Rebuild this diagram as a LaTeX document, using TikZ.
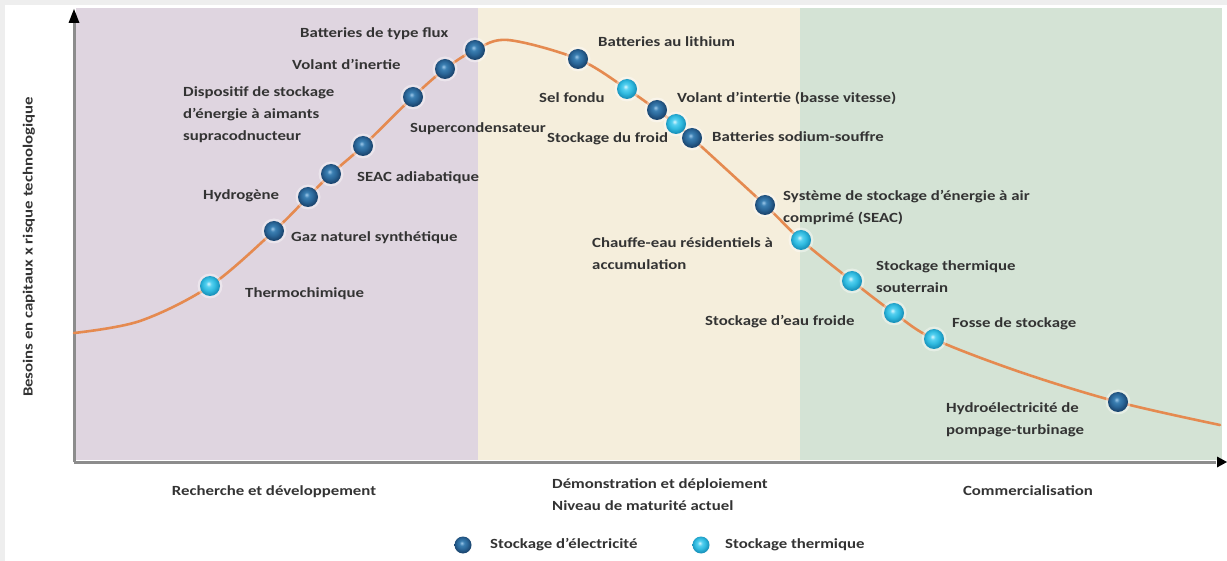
\documentclass[tikz,border=0pt]{standalone}
\usepackage{fontspec}
\setmainfont{Carlito}[FakeStretch=1.2]
\usetikzlibrary{arrows.meta}
\definecolor{frame}{HTML}{EEEEEE}
\definecolor{zoneA}{HTML}{DFD5E0}
\definecolor{zoneB}{HTML}{F5EEDC}
\definecolor{zoneC}{HTML}{D4E3D5}
\definecolor{axisgray}{HTML}{8C8C8C}
\definecolor{curve}{HTML}{E58A50}
\definecolor{txt}{HTML}{333333}
\definecolor{ehl}{HTML}{9CC8EA}
\definecolor{emid}{HTML}{3B7FB2}
\definecolor{eout}{HTML}{2A6698}
\definecolor{eedge}{HTML}{1B4670}
\definecolor{thl}{HTML}{D8F7FF}
\definecolor{tmid}{HTML}{55D0F0}
\definecolor{tout}{HTML}{30BADF}
\definecolor{tedge}{HTML}{1A93BC}
\pgfdeclareradialshading{elecball}{\pgfqpoint{-4bp}{6bp}}{color(0bp)=(ehl); color(7bp)=(emid); color(16bp)=(eout); color(25bp)=(eedge); color(50bp)=(eedge)}
\pgfdeclareradialshading{thermball}{\pgfqpoint{-4bp}{6bp}}{color(0bp)=(thl); color(7bp)=(tmid); color(16bp)=(tout); color(25bp)=(tedge); color(50bp)=(tedge)}
\begin{document}
\begin{tikzpicture}[x=1pt,y=-1pt,
  lbl/.style={font=\fontsize{14}{22}\selectfont\bfseries, text=txt, inner sep=0pt, align=left, anchor=base west},
  lblc/.style={font=\fontsize{14}{22}\selectfont\bfseries, text=txt, inner sep=0pt, align=center, anchor=base},
  elec/.style={circle, minimum size=20pt, inner sep=0pt, shading=elecball},
  therm/.style={circle, minimum size=20pt, inner sep=0pt, shading=thermball},
  halo/.style={circle, minimum size=25pt, inner sep=0pt, fill=white, fill opacity=0.4},
  axisline/.style={draw=axisgray, line width=3pt}
]
% background and frame
\useasboundingbox (0,0) rectangle (1227,561);
\fill[frame] (0,0) rectangle (1227,561);
\fill[white] (5,5) rectangle (1227,561);
% zones
\fill[zoneA] (76,8) rectangle (478,460);
\fill[zoneB] (478,8) rectangle (800,460);
\fill[zoneC] (800,8) rectangle (1222,460);
% axes
\coordinate (o) at (74,462);
\coordinate (ytop) at (74,9);
\coordinate (xend) at (1227,462);
\draw[axisline] (o) -- (74,22);
\draw[axisline] (o) -- (1216,462);
\fill[black] (ytop) -- (79.5,23) -- (68.5,23) -- cycle;
\fill[black] (xend) -- (1217,456.5) -- (1217,467.5) -- cycle;
% y axis label
\node[font=\fontsize{14}{16}\selectfont\bfseries, text=txt, rotate=90, inner sep=0pt] (ylab) at (29,247) {Besoins en capitaux x risque technologique};
% ball positions
\coordinate (pThermo) at (210,286);
\coordinate (pGaz) at (274,231);
\coordinate (pHydro) at (308,197);
\coordinate (pSeacA) at (331,174);
\coordinate (pDisp) at (363,146);
\coordinate (pSuper) at (413,97);
\coordinate (pVolant) at (445,69);
\coordinate (pFlux) at (475,50);
\coordinate (pLith) at (578,59);
\coordinate (pSel) at (627,89);
\coordinate (pVolB) at (657,110);
\coordinate (pFroid) at (676,124);
\coordinate (pNaS) at (692,138);
\coordinate (pSeac) at (765,205);
\coordinate (pChauf) at (801,240);
\coordinate (pSout) at (852,281);
\coordinate (pEau) at (894,313);
\coordinate (pFosse) at (934,339);
\coordinate (pPump) at (1118,402);
\coordinate (cStart) at (74,333);
\coordinate (cA) at (140,321);
\coordinate (cPeak) at (508,40);
\coordinate (cB) at (1020,372);
\coordinate (cEnd) at (1220,425);
% curve
\draw[curve, line width=2.6pt, line cap=round] plot[smooth, tension=0.55] coordinates {(cStart) (cA) (pThermo) (pGaz) (pHydro) (pSeacA) (pDisp) (pSuper) (pVolant) (pFlux) (cPeak) (pLith) (pSel) (pVolB) (pFroid) (pNaS) (pSeac) (pChauf) (pSout) (pEau) (pFosse) (cB) (pPump) (cEnd)};
% balls
\foreach \p in {pThermo,pSel,pFroid,pChauf,pSout,pEau,pFosse,pGaz,pHydro,pSeacA,pDisp,pSuper,pVolant,pFlux,pLith,pVolB,pNaS,pSeac,pPump} {\node[halo] at (\p) {};}
\node[therm] (bThermo) at (pThermo) {};
\node[elec] (bGaz) at (pGaz) {};
\node[elec] (bHydro) at (pHydro) {};
\node[elec] (bSeacA) at (pSeacA) {};
\node[elec] (bDisp) at (pDisp) {};
\node[elec] (bSuper) at (pSuper) {};
\node[elec] (bVolant) at (pVolant) {};
\node[elec] (bFlux) at (pFlux) {};
\node[elec] (bLith) at (pLith) {};
\node[therm] (bSel) at (pSel) {};
\node[elec] (bVolB) at (pVolB) {};
\node[therm] (bFroid) at (pFroid) {};
\node[elec] (bNaS) at (pNaS) {};
\node[elec] (bSeac) at (pSeac) {};
\node[therm] (bChauf) at (pChauf) {};
\node[therm] (bSout) at (pSout) {};
\node[therm] (bEau) at (pEau) {};
\node[therm] (bFosse) at (pFosse) {};
\node[elec] (bPump) at (pPump) {};
% labels (multi-line: base = last line)
\node[lbl] (tFlux) at (300,38) {Batteries de type flux};
\node[lbl] (tVolant) at (292,70) {Volant d'inertie};
\node[lbl] (tDisp) at (183,141) {Dispositif de stockage\\d'énergie à aimants\\supracodnucteur};
\node[lbl] (tSuper) at (410,133) {Supercondensateur};
\node[lbl] (tSeacA) at (357,182) {SEAC adiabatique};
\node[lbl] (tHydro) at (203,200) {Hydrogène};
\node[lbl] (tGaz) at (291,242) {Gaz naturel synthétique};
\node[lbl] (tThermo) at (245,298) {Thermochimique};
\node[lbl] (tLith) at (598,47) {Batteries au lithium};
\node[lbl] (tSel) at (539,103) {Sel fondu};
\node[lbl] (tVolB) at (677,103) {Volant d'intertie (basse vitesse)};
\node[lbl] (tFroid) at (547,143) {Stockage du froid};
\node[lbl] (tNaS) at (712,142) {Batteries sodium-souffre};
\node[lbl] (tSeac) at (783,223) {Système de stockage d'énergie à air\\comprimé (SEAC)};
\node[lbl] (tChauf) at (592,270) {Chauffe-eau résidentiels à\\accumulation};
\node[lbl] (tSout) at (876,293) {Stockage thermique\\souterrain};
\node[lbl] (tEau) at (705,326) {Stockage d'eau froide};
\node[lbl] (tFosse) at (952,328) {Fosse de stockage};
\node[lbl] (tPump) at (946,435) {Hydroélectricité de\\pompage-turbinage};
% phase labels
\node[lblc] (phA) at (274,495) {Recherche et développement};
\node[lbl] (phB) at (552,510) {Démonstration et déploiement\\Niveau de maturité actuel};
\node[lblc] (phC) at (1028,495) {Commercialisation};
% legend
\node[elec, minimum size=17pt] (legE) at (463,545) {};
\node[lbl, anchor=west] (legEt) at (490,545) {Stockage d'électricité};
\node[therm, minimum size=17pt] (legT) at (701,545) {};
\node[lbl, anchor=west] (legTt) at (725,545) {Stockage thermique};
\end{tikzpicture}
\end{document}
